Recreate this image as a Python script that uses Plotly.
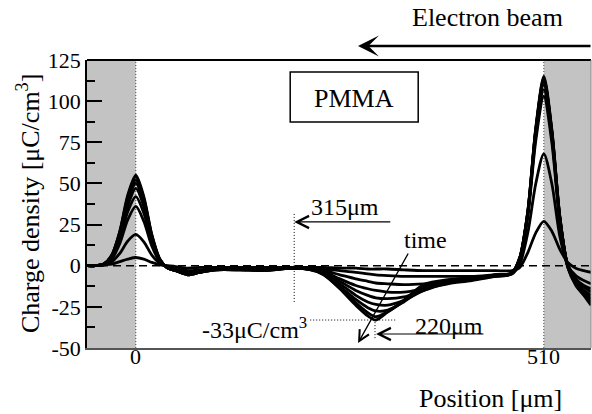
import plotly.graph_objects as go

# Position grid [µm]
position_um = [-61, -50, -40, -30, -20, -10, 0, 10, 20, 30, 40, 50, 65, 80, 100, 130, 160, 195,
               215, 235, 255, 275, 290, 300, 315, 335, 360, 390, 420, 450, 470,
               480, 490, 500, 510, 520, 530, 540, 550, 560, 569]

# Charge density profiles [µC/cm3], in time order
t1 = [0, 0, 0.5, 1, 2.5, 4, 5, 4, 2, 0.5, 0, -0.5, -1.5, -1, -1, -1, -1, -1,
      -1, -1, -1.5, -1.5, -2, -2, -2, -2.5, -3, -3, -3, -3, -3,
      -1, 8, 20, 27, 21, 10, 2, -1.5, -3, -4]
t2 = [0, 0, 0.5, 2.5, 7.5, 15, 19, 14.5, 6.5, 1.5, -0.5, -1.5, -3, -2.5, -1.5, -1.5, -1.5, -1,
      -1.5, -2, -3, -4, -5, -5.5, -6, -6.5, -6.5, -6.5, -6.5, -5.5, -5,
      1, 20, 50, 68, 50, 18, 0, -6, -9, -11]
t3 = [0, 0, 0.5, 4, 13.5, 28, 36, 27, 12, 2.5, -1, -2.5, -4, -3, -2, -2, -2, -1.5,
      -2, -3, -5.5, -8, -9.5, -10.5, -11, -11.5, -11, -9.5, -8, -6.5, -5,
      4, 30, 76, 103, 75, 27, 0, -8, -12, -14]
t4 = [0, 0, 1, 5, 16, 33, 42, 32, 14, 3, -1, -2.5, -4.5, -3.5, -2, -2, -2, -1.5,
      -2, -3.5, -8, -12, -14, -15, -16, -16, -14, -11, -9, -6.5, -5,
      4, 31, 79, 107, 78, 28, 0, -9, -13, -16]
t5 = [0, 0, 1, 5.5, 18, 36.5, 47, 36, 16, 3.5, -1.5, -3, -5, -3.5, -2, -2, -2.5, -1.5,
      -2, -4, -9.5, -15, -18, -19.5, -20, -19, -15, -10.5, -8.5, -6, -4.5,
      4.5, 32, 81, 110, 80, 29, 0, -10, -15, -18]
t6 = [0, 0, 1, 6, 19, 39, 50, 38, 17, 3.5, -1.5, -3, -5, -4, -2.5, -2, -2.5, -1.5,
      -2, -4.5, -11, -18, -22, -23.5, -24, -21, -15, -10, -8, -5.5, -4.5,
      4.5, 32, 82, 112, 81, 29, 0, -10, -16, -20]
t7 = [0, 0, 1, 6, 20, 40.5, 52, 40, 18, 4, -1.5, -3, -5.5, -4, -2.5, -2.5, -2.5, -1.5,
      -2, -5, -12.5, -20.5, -25.5, -27.5, -27, -22, -14, -9.5, -8, -5.5, -4.5,
      5, 33, 83, 113, 82, 30, -0.5, -11, -17, -22]
t8 = [0, 0, 1, 6.5, 20.5, 42, 54, 41, 18.5, 4, -1.5, -3, -5.5, -4, -2.5, -2.5, -3, -1.5,
      -2, -5.5, -13.5, -22.5, -28.5, -31, -28, -21.5, -12.5, -9, -7.5, -5.5, -4.5,
      5, 33, 83, 114, 82, 30, -1, -11, -17.5, -23]
t9 = [0, 0, 1, 6.5, 21, 43, 55, 42, 19, 4, -1.5, -3, -5.5, -4, -2.5, -2.5, -3, -1.5,
      -1.5, -5.5, -14, -24, -30.5, -33, -28, -21, -11.5, -8.5, -7.5, -6, -4.5,
      5, 33, 84, 115, 83, 30, -1, -12, -18, -24]
profiles = [t1, t2, t3, t4, t5, t6, t7, t8, t9]

x_range = [-61, 569]
y_range = [-50, 125]
y_ticks = [-50, -25, 0, 25, 50, 75, 100, 125]
y_tick_labels = ["-50", "-25", "0", "25", "50", "75", "100", "125"]
electrodes = [0, 510]
electrode_labels = ["0", "510"]

FONT = "Liberation Serif"

fig = go.Figure()
for vals in profiles:
    fig.add_trace(go.Scatter(
        x=position_um, y=vals, mode="lines",
        line=dict(color="black", width=2.8, shape="spline", smoothing=0.8),
        hoverinfo="skip", showlegend=False))

shapes = []
# grey electrode regions
shapes.append(dict(type="rect", xref="x", yref="paper", x0=x_range[0], x1=electrodes[0], y0=0, y1=1,
                   fillcolor="#c3c3c3", line=dict(width=0), layer="below"))
shapes.append(dict(type="rect", xref="x", yref="paper", x0=electrodes[1], x1=x_range[1], y0=0, y1=1,
                   fillcolor="#c3c3c3", line=dict(width=0), layer="below"))
for e in electrodes:
    shapes.append(dict(type="line", xref="x", yref="paper", x0=e, x1=e, y0=0, y1=1,
                       line=dict(color="#444", width=1, dash="1px,2px"), layer="below"))
# dashed zero line
shapes.append(dict(type="line", xref="paper", yref="y", x0=0, x1=1, y0=0, y1=0,
                   line=dict(color="black", width=1.5, dash="8px,5px"), layer="below"))
# frame top / right
shapes.append(dict(type="line", xref="paper", yref="paper", x0=0, x1=1, y0=1, y1=1,
                   line=dict(color="black", width=2)))
shapes.append(dict(type="line", xref="paper", yref="paper", x0=1, x1=1, y0=0, y1=1,
                   line=dict(color="#888", width=1)))
# PMMA box
shapes.append(dict(type="rect", xref="x", yref="y", x0=193, x1=353, y0=87.3, y1=117.7,
                   line=dict(color="black", width=1.5), fillcolor="white"))
# dotted guides
shapes.append(dict(type="line", xref="x", yref="y", x0=198, x1=198, y0=-22, y1=32,
                   line=dict(color="black", width=1, dash="1px,2px")))
shapes.append(dict(type="line", xref="x", yref="y", x0=299, x1=299, y0=-44, y1=-33,
                   line=dict(color="black", width=1, dash="1px,2px")))
shapes.append(dict(type="line", xref="x", yref="y", x0=218, x1=325, y0=-33, y1=-33,
                   line=dict(color="black", width=1, dash="1px,2px")))

ann = []
def txt(x, y, s, size=24, xref="x", yref="y", angle=0):
    ann.append(dict(x=x, y=y, xref=xref, yref=yref, text=s, showarrow=False,
                    font=dict(family=FONT, size=size, color="black"),
                    xanchor="center", yanchor="middle", textangle=angle))

def arr(x, y, ax, ay, head=5, w=1.2, size=2.0):
    ann.append(dict(x=x, y=y, ax=ax, ay=ay, xref="x", yref="y", axref="x", ayref="y",
                    text="", showarrow=True, arrowhead=head, arrowwidth=w, arrowsize=size,
                    arrowcolor="black", standoff=0, startstandoff=0))

# x tick labels placed at the electrode positions of the x axis
for e, lab in zip(electrodes, electrode_labels):
    txt(e, -0.028, lab, size=22, xref="x", yref="paper")

txt(0.794, 1.146, "Electron beam", size=26, xref="paper", yref="paper")
ann.append(dict(x=0.5377, y=1.0486, xref="paper", yref="paper", ax=234, ay=0, text="",
                showarrow=True, arrowhead=3, arrowwidth=2.5, arrowsize=1.4, arrowcolor="black",
                standoff=0, startstandoff=0))
txt(272.8, 101.9, "PMMA", size=26)
txt(261.5, 35.7, "315μm")
arr(198, 26.6, 320, 26.6)
txt(361.5, 15.6, "time")
arr(277.8, -47, 341.5, 8.3, w=1.3, size=1.6)
txt(391.5, -36.5, "220μm")
arr(300.3, -41.5, 436.5, -41.5)
txt(147.8, -37.9, "-33μC/cm<sup>3</sup>")
txt(-0.117, 0.5, "Charge density [μC/cm<sup>3</sup>]", size=26, xref="paper", yref="paper", angle=-90)
txt(0.8, -0.174, "Position [μm]", size=26, xref="paper", yref="paper")

fig.update_layout(
    width=592, height=414,
    margin=dict(l=87, r=1, t=60, b=66, pad=0),
    paper_bgcolor="white", plot_bgcolor="white",
    font=dict(family=FONT, color="black"),
    shapes=shapes, annotations=ann,
    xaxis=dict(range=x_range, showline=True, linecolor="#555", linewidth=2, ticks="",
               tickvals=electrodes, showticklabels=False,
               showgrid=False, zeroline=False),
    yaxis=dict(range=y_range, tickvals=y_ticks, ticktext=y_tick_labels,
               ticks="inside", ticklen=15, tickwidth=1.5,
               tickcolor="black", showline=True, linecolor="black", linewidth=1.5,
               showgrid=False, zeroline=False,
               tickfont=dict(family=FONT, size=22, color="black"),
               minor=dict(ticks="inside", ticklen=8, tickwidth=1.5, tickcolor="black",
                          dtick=12.5, tick0=0, showgrid=False)),
)

fig.write_html("out.html")
